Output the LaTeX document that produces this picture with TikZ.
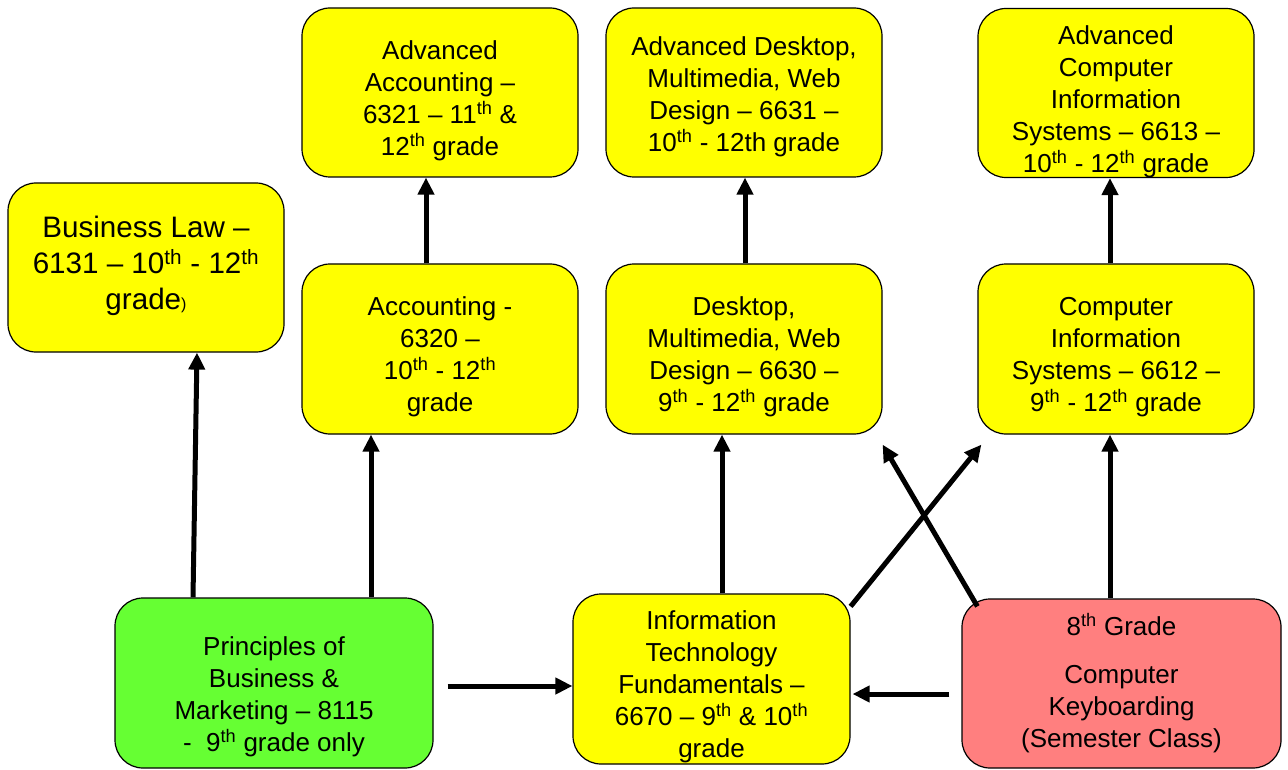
\documentclass[tikz,border=0pt]{standalone}
\usepackage{fontspec}
\setmainfont{Liberation Sans}
\usetikzlibrary{arrows.meta}

\definecolor{boxyellow}{HTML}{FFFF00}
\definecolor{boxgreen}{HTML}{66FF33}
\definecolor{boxpink}{HTML}{FF7F7F}

\newcommand{\sth}{\textsuperscript{th}}

\begin{document}
\begin{tikzpicture}[
    x=1pt, y=-1pt,
    % Define the style for the course boxes (rounded, outlined)
    course/.style={draw=black, line width=1.2pt, rounded corners=28pt,
        fill=boxyellow, minimum width=276pt, minimum height=169pt,
        inner sep=0pt},
    % Define the style for the text set in a box
    txt/.style={inner sep=0pt, align=center, font=\fontsize{26}{32}\selectfont},
    % Define the style for the thick arrows
    link/.style={line width=5pt,
        -{Triangle[length=17pt,width=16pt]}},
]
    \useasboundingbox (0,0) rectangle (1288,770);

    % --- Business track ---
    \node[course] (law) at (146,267.5) {};
    \node[txt, font=\fontsize{29.6}{36}\selectfont] (law-t) at ([yshift=2pt]law.center)
        {Business Law --\\6131 -- 10\sth{} - 12\sth\\grade{\fontsize{16}{16}\selectfont)}};
    \node[course] (advacc) at (440,92.5) {};
    \node[txt] (advacc-t) at ([yshift=-8pt]advacc.center)
        {Advanced\\Accounting --\\6321 -- 11\sth{} \&\\12\sth{} grade};
    \node[course, minimum height=170pt] (acc) at (440,349) {};
    \node[txt] (acc-t) at ([yshift=-8pt]acc.center)
        {Accounting -\\6320 --\\10\sth{} - 12\sth\\grade};

    % --- Multimedia track ---
    \node[course] (advdtp) at (744,92.5) {};
    \node[txt] (advdtp-t) at ([yshift=-4pt]advdtp.center)
        {Advanced Desktop,\\Multimedia, Web\\Design -- 6631 --\\10\sth{} - 12th grade};
    \node[course, minimum height=170pt] (dtp) at (744,349) {};
    \node[txt] (dtp-t) at ([yshift=-8pt]dtp.center)
        {Desktop,\\Multimedia, Web\\Design -- 6630 --\\9\sth{} - 12\sth{} grade};

    % --- Information systems track ---
    \node[course] (advcis) at (1116,93) {};
    \node[txt] (advcis-t) at ([yshift=-9pt]advcis.center)
        {Advanced\\Computer\\Information\\Systems -- 6613 --\\10\sth{} - 12\sth{} grade};
    \node[course, minimum height=170pt] (cis) at (1116,349) {};
    \node[txt] (cis-t) at ([yshift=-8pt]cis.center)
        {Computer\\Information\\Systems -- 6612 --\\9\sth{} - 12\sth{} grade};

    % --- Entry courses ---
    \node[course, fill=boxgreen, minimum width=318pt, minimum height=170pt] (prin) at (274,683) {};
    \node[txt] (prin-t) at ([yshift=-14pt]prin.center)
        {Principles of\\Business \&\\Marketing -- 8115\\-\ \ 9\sth{} grade only};
    \node[course, minimum width=277pt, minimum height=170pt] (itf) at (711.5,679) {};
    \node[txt] (itf-t) at ([yshift=-8pt]itf.center)
        {Information\\Technology\\Fundamentals --\\6670 -- 9\sth{} \& 10\sth\\grade};
    \node[course, fill=boxpink, minimum width=319pt] (kbd) at (1121.5,683.5) {};
    \node[txt] (kbd-t) at (kbd.center)
        {8\sth{} Grade\\[16pt]Computer\\Keyboarding\\(Semester Class)};

    % Arrows
    \draw[link] ([xshift=-81pt]prin.north) -- ([xshift=51pt]law.south);
    \draw[link] ([xshift=97pt]prin.north) -- ([xshift=-69pt]acc.south);
    \draw[link] ([xshift=-14pt]acc.north) -- ([xshift=-14pt]advacc.south);
    \draw[link] ([xshift=14pt,yshift=-3pt]prin.east) -- ([yshift=-7pt]itf.west);
    \draw[link] ([xshift=10.5pt]itf.north) -- ([xshift=-22pt]dtp.south);
    \draw[link] ([xshift=1pt]dtp.north) -- ([xshift=1pt]advdtp.south);
    \draw[link] ([yshift=-13pt]itf.north east) -- ([xshift=4pt,yshift=-10pt]cis.south west);
    \draw[link] ([xshift=16pt,yshift=-8pt]kbd.north west) -- ([yshift=-10pt]dtp.south east);
    \draw[link] ([xshift=-12pt,yshift=-10.5pt]kbd.west) -- ([xshift=2pt,yshift=-15pt]itf.east);
    \draw[link] ([xshift=-11.5pt]kbd.north) -- ([xshift=-6pt]cis.south);
    \draw[link] ([xshift=-6pt]cis.north) -- ([xshift=-6pt]advcis.south);

\end{tikzpicture}
\end{document}
